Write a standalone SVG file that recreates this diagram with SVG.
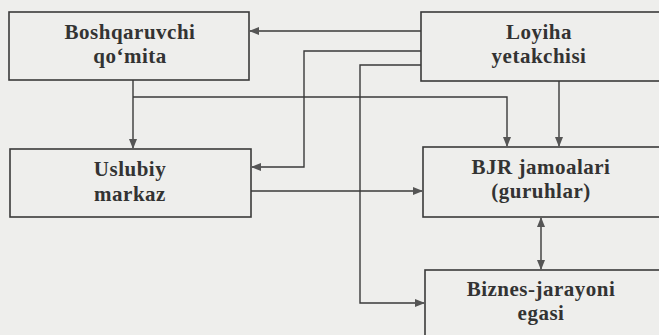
<svg xmlns="http://www.w3.org/2000/svg" width="659" height="335" viewBox="0 0 659 335">
<style>
.box{fill:none;stroke:#3a3a3a;stroke-width:1.6}
.t{font-family:"Liberation Serif","Times New Roman",serif;font-weight:bold;font-size:21px;letter-spacing:0.5px;fill:#333;text-anchor:middle}
.c{fill:none;stroke:#3a3a3a;stroke-width:1.4}
</style>
<defs>
<marker id="a" markerWidth="10" markerHeight="8" refX="9" refY="4" orient="auto" markerUnits="userSpaceOnUse">
<path d="M0,0 L10,4 L0,8 Z" fill="#555"/>
</marker>
<marker id="s" markerWidth="10" markerHeight="8" refX="9" refY="4" orient="auto-start-reverse" markerUnits="userSpaceOnUse">
<path d="M0,0 L10,4 L0,8 Z" fill="#555"/>
</marker>
</defs>
<rect width="659" height="335" fill="#eeeeec"/>
<g id="n1"><rect class="box" x="9" y="12" width="240" height="68"/><text class="t" x="130" y="39">Boshqaruvchi</text><text class="t" x="130" y="63">qo‘mita</text></g>
<g id="n2"><rect class="box" x="421" y="12" width="240" height="69"/><text class="t" x="539" y="39">Loyiha</text><text class="t" x="539" y="63">yetakchisi</text></g>
<g id="n3"><rect class="box" x="10" y="149" width="241" height="68"/><text class="t" x="130" y="176">Uslubiy</text><text class="t" x="130" y="201">markaz</text></g>
<g id="n4"><rect class="box" x="423" y="147" width="240" height="70"/><text class="t" x="541" y="174">BJR jamoalari</text><text class="t" x="541" y="198">(guruhlar)</text></g>
<g id="n5"><rect class="box" x="425" y="270" width="240" height="70"/><text class="t" x="541" y="296">Biznes-jarayoni</text><text class="t" x="541" y="320">egasi</text></g>
<g id="connectors">
<path class="c" d="M421,31 L250,31" marker-end="url(#a)"/>
<path class="c" d="M421,51 L304,51 L304,167 L252,167" marker-end="url(#a)"/>
<path class="c" d="M421,65 L360,65 L360,303 L424,303" marker-end="url(#a)"/>
<path class="c" d="M133,80 L133,148" marker-end="url(#a)"/>
<path class="c" d="M133,97 L507,97 L507,146" marker-end="url(#a)"/>
<path class="c" d="M559,81 L559,146" marker-end="url(#a)"/>
<path class="c" d="M251,191 L422,191" marker-end="url(#a)"/>
<path class="c" d="M541,218 L541,269" marker-start="url(#s)" marker-end="url(#a)"/>
</g>
</svg>
